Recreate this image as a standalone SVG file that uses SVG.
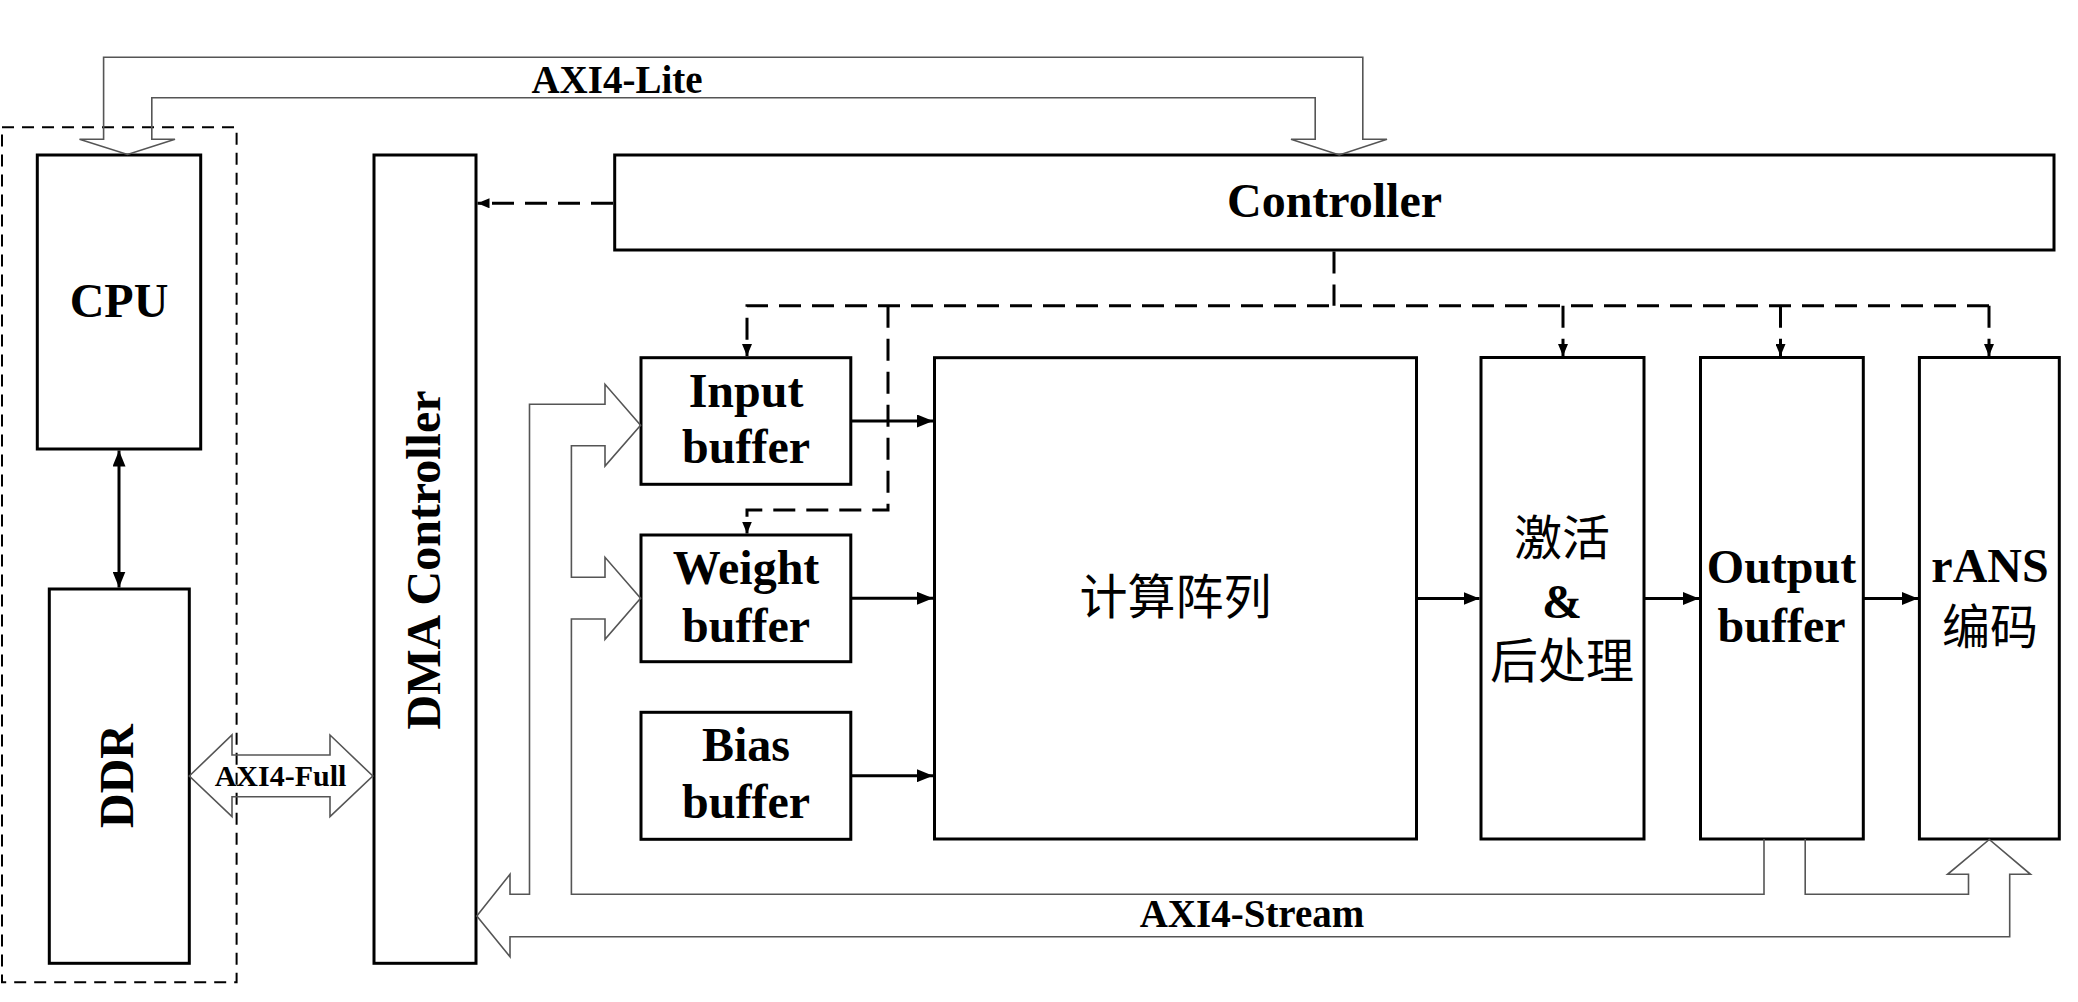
<svg xmlns="http://www.w3.org/2000/svg" width="2078" height="1002" viewBox="0 0 2078 1002">
<style>
.box{fill:#fff;stroke:#000;stroke-width:3}
.t{font-family:"Liberation Serif","Times New Roman",serif;font-weight:bold;font-size:48px;fill:#000;text-anchor:middle}
.bus{font-family:"Liberation Serif","Times New Roman",serif;font-weight:bold;font-size:39px;fill:#000;text-anchor:middle}
.cjk{font-family:"Liberation Serif","Noto Sans CJK SC",serif;font-weight:normal;font-size:48px;fill:#000;text-anchor:middle}
.hollow{fill:none;stroke:#555;stroke-width:1.6;stroke-linejoin:miter}
.sol{fill:none;stroke:#000;stroke-width:3}
.dash{fill:none;stroke:#000;stroke-width:3;stroke-dasharray:22 11}
</style>
<defs>
<marker id="ah" viewBox="0 0 16 13" refX="16" refY="6.5" markerWidth="16" markerHeight="13" markerUnits="userSpaceOnUse" orient="auto-start-reverse">
<path d="M0,0 L16,6.5 L0,13 Z" fill="#000"/>
</marker>
<marker id="dh" viewBox="0 0 12 10" refX="12" refY="5" markerWidth="12" markerHeight="10" markerUnits="userSpaceOnUse" orient="auto">
<path d="M0,0 L12,5 L0,10 Z" fill="#000"/>
</marker>
</defs>

<g id="soc-boundary">
<rect x="2" y="127.3" width="234.6" height="855" fill="none" stroke="#000" stroke-width="2" stroke-dasharray="12 8"/>
</g>

<g id="cpu">
<rect class="box" x="37.3" y="155" width="163.4" height="294"/>
<text class="t" x="119" y="316.7">CPU</text>
</g>

<g id="ddr">
<rect class="box" x="49.3" y="589" width="140" height="374.3"/>
<text class="t" transform="translate(133,776) rotate(-90)" x="0" y="0">DDR</text>
</g>

<g id="dma">
<rect class="box" x="374" y="155" width="102" height="808.3"/>
<text class="t" transform="translate(439.5,560) rotate(-90)" x="0" y="0">DMA Controller</text>
</g>

<g id="controller">
<rect class="box" x="614.7" y="155" width="1439.3" height="95"/>
<text class="t" x="1334.5" y="216.5">Controller</text>
</g>

<g id="input-buffer">
<rect class="box" x="641" y="357.7" width="209.8" height="126.6"/>
<text class="t" x="746" y="406.7">Input</text>
<text class="t" x="746" y="463.3">buffer</text>
</g>

<g id="weight-buffer">
<rect class="box" x="641" y="535" width="209.8" height="126.7"/>
<text class="t" x="746" y="584">Weight</text>
<text class="t" x="746" y="641.7">buffer</text>
</g>

<g id="bias-buffer">
<rect class="box" x="641" y="712.3" width="209.8" height="127"/>
<text class="t" x="746" y="760.7">Bias</text>
<text class="t" x="746" y="818.3">buffer</text>
</g>

<g id="compute-array">
<rect class="box" x="934.5" y="357.7" width="482" height="481.3"/>
<text class="cjk" x="1175.5" y="614">计算阵列</text>
</g>

<g id="activation">
<rect class="box" x="1481" y="357.5" width="163" height="481.5"/>
<text class="cjk" x="1562" y="555">激活</text>
<text class="t" x="1562" y="618">&amp;</text>
<text class="cjk" x="1562" y="677.5">后处理</text>
</g>

<g id="output-buffer">
<rect class="box" x="1700.5" y="357.5" width="162.8" height="481.5"/>
<text class="t" x="1781.5" y="583.3">Output</text>
<text class="t" x="1781.5" y="641.7">buffer</text>
</g>

<g id="rans">
<rect class="box" x="1919.4" y="357.5" width="139.9" height="481.5"/>
<text class="t" x="1990" y="581.7">rANS</text>
<text class="cjk" x="1990" y="644">编码</text>
</g>

<g id="connectors">
<path class="hollow" d="M103.6,57.3 H1362.8 V139.3 H1387 L1339.3,155 L1291,139.3 H1315.2 V97.7 H151.8 V139.3 H175 L127.5,154.5 L79.5,139.3 H103.6 Z"/>
<text class="bus" x="617" y="93.3">AXI4-Lite</text>

<path class="hollow" d="M189.3,776 L232,735 V755 H330 V735 L372.8,776 L330,816.7 V796.7 H232 V816.7 Z"/>
<text class="bus" style="font-size:30px" x="280.5" y="786">AXI4-Full</text>

<path class="hollow" d="M1805.2,839 V894.3 H1968.5 V874.3 H1947.6 L1989.3,839.5 L2030.5,874.3 H2009.7 V936.7 H510 V956.7 L476.8,916 L510,874.3 V894.3 H529.5 V404.3 H605 V384.3 L640.6,425.3 L605,466 V445.7 H571.4 V577.3 H605 V557.3 L640.6,598.3 L605,639.3 V619 H571.4 V894.3 H1764 V839"/>
<text class="bus" x="1252" y="926.7">AXI4-Stream</text>

<line class="sol" x1="119" y1="450.5" x2="119" y2="587.5" marker-start="url(#ah)" marker-end="url(#ah)"/>

<line class="sol" x1="850.8" y1="421" x2="933" y2="421" marker-end="url(#ah)"/>
<line class="sol" x1="850.8" y1="598.3" x2="933" y2="598.3" marker-end="url(#ah)"/>
<line class="sol" x1="850.8" y1="775.7" x2="933" y2="775.7" marker-end="url(#ah)"/>
<line class="sol" x1="1416.5" y1="598.5" x2="1479.5" y2="598.5" marker-end="url(#ah)"/>
<line class="sol" x1="1644" y1="598.5" x2="1699" y2="598.5" marker-end="url(#ah)"/>
<line class="sol" x1="1863.3" y1="598.5" x2="1918" y2="598.5" marker-end="url(#ah)"/>

<line class="dash" x1="613" y1="203.3" x2="477.5" y2="203.3" marker-end="url(#dh)"/>
<path class="dash" d="M1334,251.5 V305.7"/>
<path class="dash" d="M1989,305.7 H747 V356" marker-end="url(#dh)"/>
<path class="dash" d="M888,305.7 V510 H747 V533.5" marker-end="url(#dh)"/>
<path class="dash" d="M1563,305.7 V356" marker-end="url(#dh)"/>
<path class="dash" d="M1780.5,305.7 V356" marker-end="url(#dh)"/>
<path class="dash" d="M1989,305.7 V356" marker-end="url(#dh)"/>
</g>
</svg>
